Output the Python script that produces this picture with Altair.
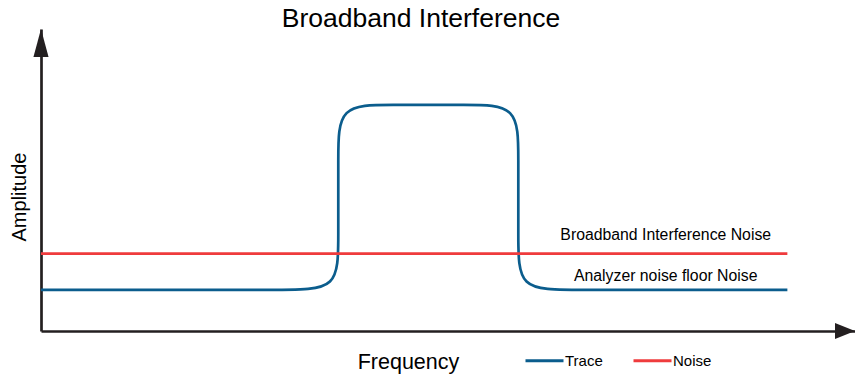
import altair as alt
import pandas as pd

# ---- data ----
title_text = "Broadband Interference"
x_title = "Frequency"
y_title = "Amplitude"
series_names = ["Trace", "Noise"]
series_colors = ["#0b5d8d", "#ef3b3d"]

# trace: control points of the rounded step (frequency units, amplitude units)
trace_x = [0, 33.1, 39.83, 39.83, 39.83, 39.83, 46.5, 57.3, 63.95, 63.95, 63.95, 63.95, 70.6, 100]
trace_y = [13.6, 13.6, 13.6, 30.2, 58.3, 74.9, 74.9, 74.9, 74.9, 58.3, 30.2, 13.6, 13.6, 13.6]
noise_x = [0, 100]
noise_y = [25.6, 25.6]

label_texts = ["Broadband Interference Noise", "Analyzer noise floor Noise"]
label_x = [83.7, 83.7]
label_y = [30.0, 16.65]

# axis ends (arrow tips)
arrow_up_x = [0]
arrow_up_y = [100]
arrow_right_x = [109.06]
arrow_right_y = [0]

FONT = "Liberation Sans"
AXIS_COLOR = "#231f20"

rows = []
for i, (x, y) in enumerate(zip(trace_x, trace_y)):
    rows.append({"series": "Trace", "i": i, "x": x, "y": y})
for i, (x, y) in enumerate(zip(noise_x, noise_y)):
    rows.append({"series": "Noise", "i": i, "x": x, "y": y})
lines_df = pd.DataFrame(rows)

labels_df = pd.DataFrame({"text": label_texts, "x": label_x, "y": label_y})
up_df = pd.DataFrame({"x": arrow_up_x, "y": arrow_up_y})
right_df = pd.DataFrame({"x": arrow_right_x, "y": arrow_right_y})

xscale = alt.Scale(domain=[0, 109.06], nice=False, zero=False)
yscale = alt.Scale(domain=[0, 100], nice=False, zero=False)

x_axis = alt.Axis(
    title=x_title, ticks=False, labels=False, grid=False,
    domainColor=AXIS_COLOR, domainWidth=2.7,
    titleFont=FONT, titleFontSize=21.5, titleFontWeight="normal", titleColor="black",
    titleX=367, titleY=37, titleBaseline="alphabetic", titleAlign="center",
)
y_axis = alt.Axis(
    title=y_title, ticks=False, labels=False, grid=False,
    domainColor=AXIS_COLOR, domainWidth=2.7,
    titleFont=FONT, titleFontSize=20, titleFontWeight="normal", titleColor="black",
    titleAngle=270, titleX=-16, titleY=167.5, titleBaseline="alphabetic", titleAlign="center",
)

lines = alt.Chart(lines_df).mark_line(interpolate="basis", strokeWidth=2.7).encode(
    x=alt.X("x:Q", scale=xscale, axis=x_axis),
    y=alt.Y("y:Q", scale=yscale, axis=y_axis),
    color=alt.Color(
        "series:N",
        scale=alt.Scale(domain=series_names, range=series_colors),
        legend=alt.Legend(
            title=None, orient="none", legendX=483, legendY=311,
            direction="horizontal", symbolType="stroke", symbolSize=1444,
            symbolStrokeWidth=3, labelFontSize=15, labelFont=FONT,
            labelColor="black", labelOffset=0, columnPadding=24, padding=0,
        ),
    ),
    order=alt.Order("i:Q"),
)

labels = alt.Chart(labels_df).mark_text(
    font=FONT, fontSize=15.8, color="black", align="center", baseline="alphabetic"
).encode(x=alt.X("x:Q", scale=xscale), y=alt.Y("y:Q", scale=yscale), text="text:N")

arrow_up = alt.Chart(up_df).mark_point(
    shape="M0,0 L0.27,1 L-0.27,1 Z", size=3136, filled=True, color=AXIS_COLOR, opacity=1, strokeWidth=0
).encode(x=alt.X("x:Q", scale=xscale), y=alt.Y("y:Q", scale=yscale))

arrow_right = alt.Chart(right_df).mark_point(
    shape="M0,0 L-1,-0.4 L-1,0.4 Z", size=1600, filled=True, color=AXIS_COLOR, opacity=1, strokeWidth=0
).encode(x=alt.X("x:Q", scale=xscale), y=alt.Y("y:Q", scale=yscale))

chart = alt.layer(lines, labels, arrow_up, arrow_right).properties(
    width=814, height=302,
    padding={"left": 33, "top": 21, "right": 0, "bottom": 44},
    autosize=alt.AutoSizeParams(type="none"),
    title=alt.TitleParams(
        title_text, font=FONT, fontSize=26.5, fontWeight="normal", color="black",
        anchor="middle", dx=-27, dy=25, offset=1, baseline="alphabetic",
    ),
).configure_view(stroke=None)

chart.save("out.html", embed_options={"renderer": "svg", "actions": False})
